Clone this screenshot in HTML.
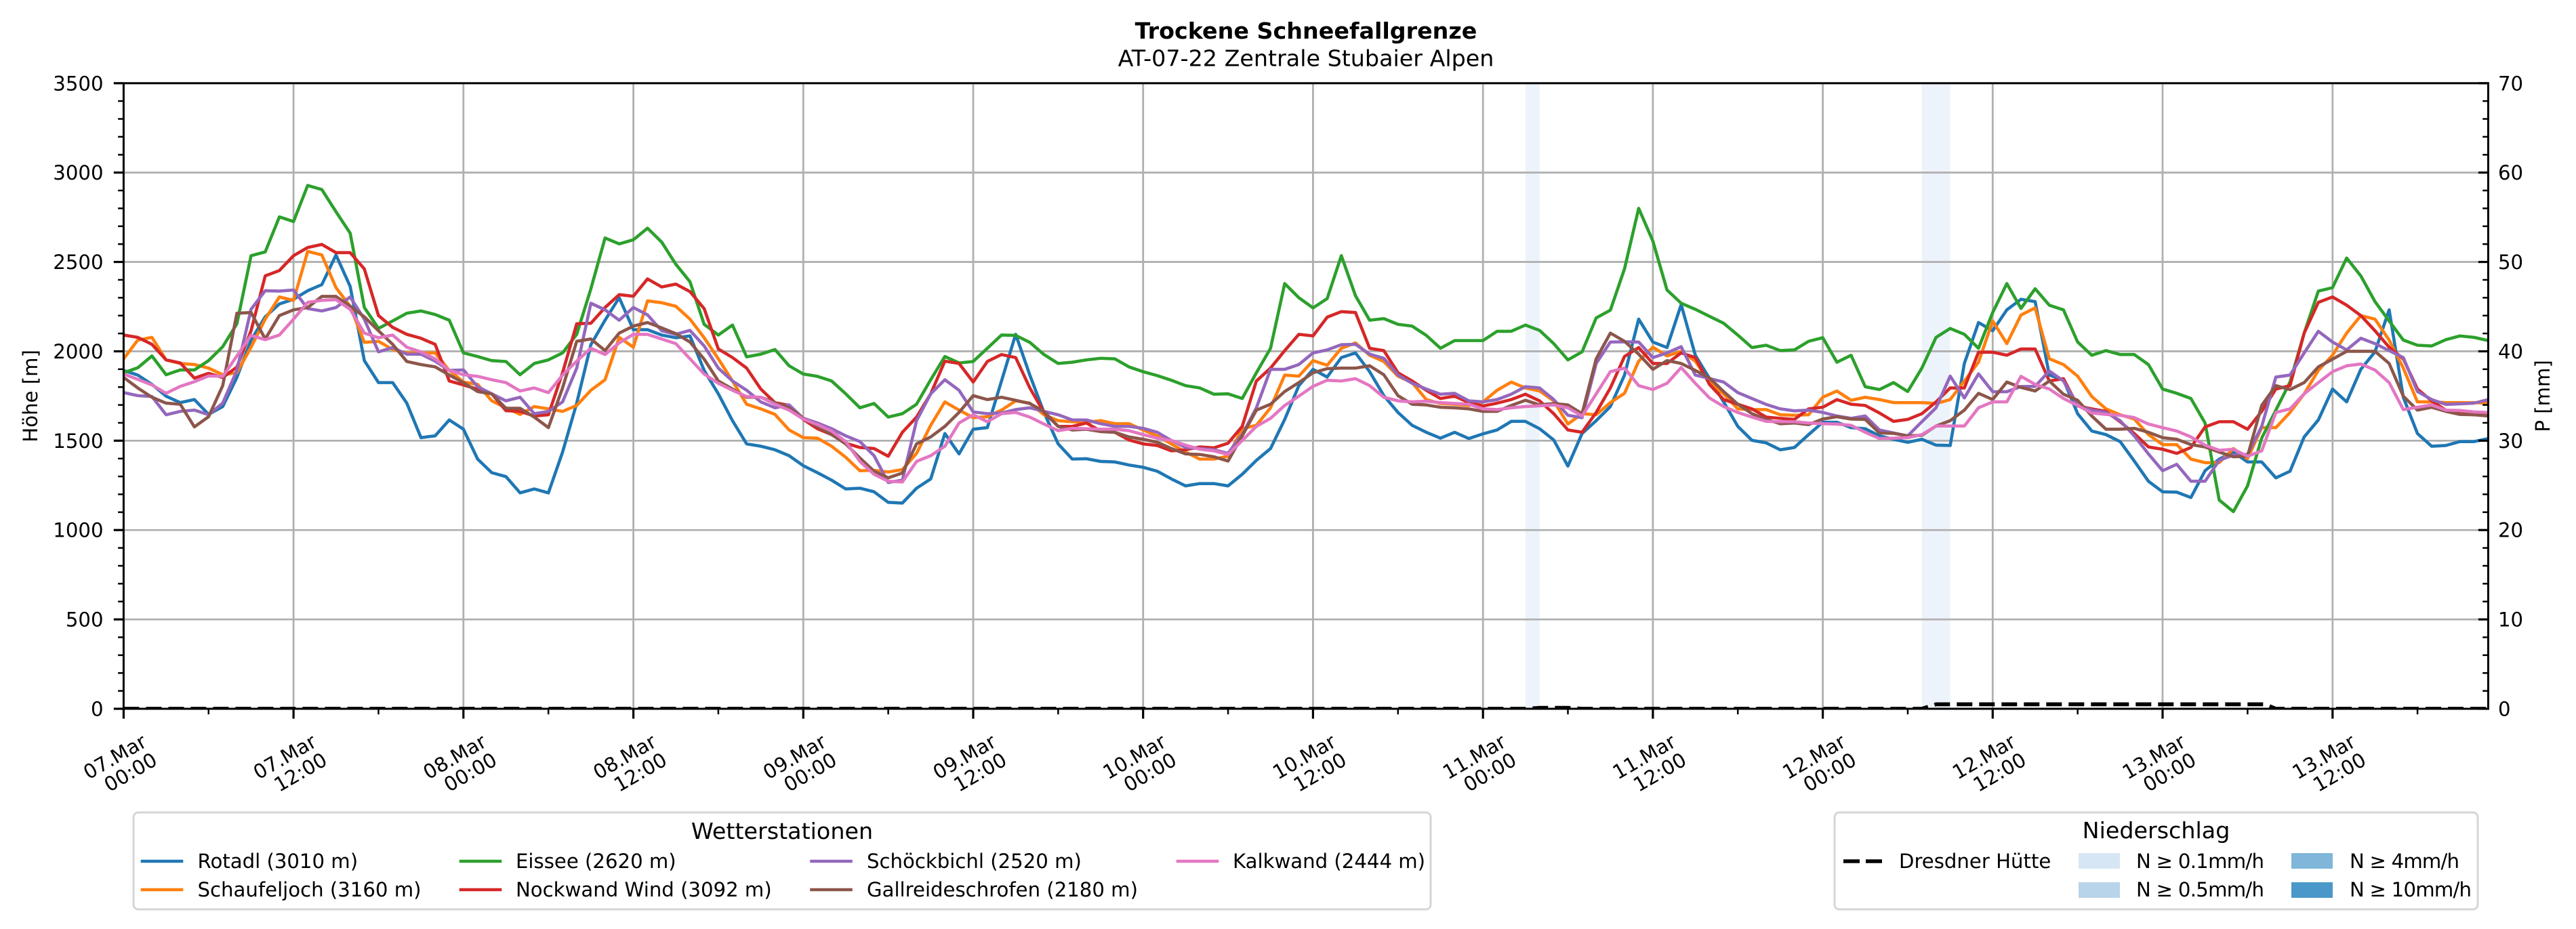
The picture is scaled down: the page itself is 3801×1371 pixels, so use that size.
<!DOCTYPE html>
<html><head><meta charset="utf-8"><style>
html,body{margin:0;padding:0;background:#fff;}
svg{display:block;}
text{font-family:"DejaVu Sans","Liberation Sans",sans-serif;fill:#000;}
</style></head><body>
<svg width="3801" height="1371" viewBox="0 0 3801 1371" xmlns="http://www.w3.org/2000/svg">
<rect x="0" y="0" width="3801" height="1371" fill="#fff"/>
<defs><clipPath id="pc"><rect x="182.4" y="122.8" width="3489.1" height="923.2"/></clipPath></defs>

<!-- titles -->
<text x="1927" y="57" font-size="33.33" font-weight="bold" text-anchor="middle">Trockene Schneefallgrenze</text>
<text x="1927" y="97.5" font-size="33.33" text-anchor="middle">AT-07-22 Zentrale Stubaier Alpen</text>

<!-- precipitation bands -->
<rect x="2250.8" y="122.8" width="20.9" height="923.2" fill="#edf3fa"/>
<rect x="2835.8" y="122.8" width="41.8" height="923.2" fill="#edf3fa"/>

<!-- grid -->
<g stroke="#b0b0b0" stroke-width="2.8">
<line x1="182.4" y1="914.11" x2="3671.5" y2="914.11"/>
<line x1="182.4" y1="782.23" x2="3671.5" y2="782.23"/>
<line x1="182.4" y1="650.34" x2="3671.5" y2="650.34"/>
<line x1="182.4" y1="518.46" x2="3671.5" y2="518.46"/>
<line x1="182.4" y1="386.57" x2="3671.5" y2="386.57"/>
<line x1="182.4" y1="254.69" x2="3671.5" y2="254.69"/>
<line x1="433.1" y1="122.8" x2="433.1" y2="1046"/>
<line x1="683.8" y1="122.8" x2="683.8" y2="1046"/>
<line x1="934.6" y1="122.8" x2="934.6" y2="1046"/>
<line x1="1185.3" y1="122.8" x2="1185.3" y2="1046"/>
<line x1="1436.0" y1="122.8" x2="1436.0" y2="1046"/>
<line x1="1686.7" y1="122.8" x2="1686.7" y2="1046"/>
<line x1="1937.4" y1="122.8" x2="1937.4" y2="1046"/>
<line x1="2188.2" y1="122.8" x2="2188.2" y2="1046"/>
<line x1="2438.9" y1="122.8" x2="2438.9" y2="1046"/>
<line x1="2689.6" y1="122.8" x2="2689.6" y2="1046"/>
<line x1="2940.3" y1="122.8" x2="2940.3" y2="1046"/>
<line x1="3191.0" y1="122.8" x2="3191.0" y2="1046"/>
<line x1="3441.8" y1="122.8" x2="3441.8" y2="1046"/>
</g>

<!-- series -->
<g clip-path="url(#pc)">
<g transform="matrix(20.893 0 0 -0.263771 182.4 1046)" fill="none" stroke-width="4.6" stroke-linejoin="round" stroke-linecap="square">
<polyline vector-effect="non-scaling-stroke" stroke="#1f77b4" points="0,1893 1,1867 2,1815 3,1749 4,1713 5,1730 6,1647 7,1691 8,1854 9,2063 10,2193 11,2265 12,2291 13,2339 14,2373 15,2539 16,2363 17,1948 18,1825 19,1825 20,1710 21,1517 22,1527 23,1616 24,1564 25,1397 26,1321 27,1299 28,1208 29,1230 30,1208 31,1436 32,1710 33,2037 34,2174 35,2300 36,2121 37,2121 38,2091 39,2076 40,2086 41,1893 42,1762 43,1612 44,1482 45,1469 46,1449 47,1416 48,1360 49,1321 50,1279 51,1230 52,1234 53,1214 54,1155 55,1151 56,1234 57,1286 58,1540 59,1426 60,1564 61,1573 62,1834 63,2095 64,1867 65,1658 66,1482 67,1397 68,1399 69,1384 70,1381 71,1364 72,1351 73,1329 74,1286 75,1247 76,1260 77,1260 78,1247 79,1312 80,1390 81,1456 82,1619 83,1808 84,1899 85,1856 86,1965 87,1991 88,1886 89,1752 90,1658 91,1586 92,1547 93,1514 94,1547 95,1512 96,1538 97,1560 98,1608 99,1608 100,1567 101,1504 102,1358 103,1540 104,1612 105,1691 106,1867 107,2180 108,2052 109,2021 110,2261 111,1978 112,1848 113,1717 114,1580 115,1502 116,1488 117,1449 118,1462 119,1534 120,1603 121,1603 122,1573 123,1567 124,1527 125,1508 126,1491 127,1508 128,1475 129,1473 130,1932 131,2161 132,2115 133,2232 134,2291 135,2278 136,1867 137,1841 138,1651 139,1554 140,1534 141,1495 142,1386 143,1273 144,1214 145,1212 146,1182 147,1332 148,1397 149,1436 150,1381 151,1381 152,1292 153,1329 154,1521 155,1616 156,1789 157,1717 158,1899 159,1997 160,2232 161,1743 162,1540 163,1469 164,1473 165,1495 166,1495 167,1512"/>
<polyline vector-effect="non-scaling-stroke" stroke="#ff7f0e" points="0,1958 1,2063 2,2078 3,1952 4,1932 5,1926 6,1906 7,1869 8,1880 9,2023 10,2180 11,2304 12,2285 13,2559 14,2539 15,2356 16,2252 17,2050 18,2056 19,2010 20,1991 21,1991 22,1991 23,1893 24,1828 25,1815 26,1723 27,1684 28,1647 29,1691 30,1678 31,1664 32,1697 33,1782 34,1841 35,2078 36,2023 37,2282 38,2272 39,2252 40,2180 41,2076 42,1958 43,1834 44,1704 45,1678 46,1647 47,1560 48,1517 49,1514 50,1469 51,1407 52,1332 53,1334 54,1325 55,1338 56,1429 57,1586 58,1717 59,1671 60,1629 61,1634 62,1671 63,1723 64,1710 65,1645 66,1612 67,1606 68,1603 69,1612 70,1595 71,1595 72,1560 73,1527 74,1482 75,1436 76,1397 77,1397 78,1413 79,1567 80,1586 81,1684 82,1867 83,1861 84,1948 85,1922 86,2017 87,2047 88,1978 89,1943 90,1861 91,1825 92,1730 93,1708 94,1704 95,1697 96,1717 97,1782 98,1828 99,1795 100,1778 101,1723 102,1593 103,1651 104,1645 105,1713 106,1765 107,1945 108,2023 109,1974 110,2000 111,1945 112,1825 113,1762 114,1678 115,1674 116,1674 117,1645 118,1642 119,1645 120,1743 121,1778 122,1726 123,1743 124,1730 125,1713 126,1713 127,1713 128,1708 129,1730 130,1834 131,1939 132,2170 133,2043 134,2203 135,2243 136,1958 137,1926 138,1861 139,1747 140,1678 141,1645 142,1621 143,1534 144,1478 145,1478 146,1397 147,1377 148,1377 149,1456 150,1399 151,1573 152,1573 153,1658 154,1762 155,1893 156,1978 157,2102 158,2200 159,2180 160,2063 161,1906 162,1717 163,1717 164,1713 165,1713 166,1713 167,1710"/>
<polyline vector-effect="non-scaling-stroke" stroke="#2ca02c" points="0,1880 1,1908 2,1974 3,1869 4,1896 5,1896 6,1948 7,2026 8,2154 9,2535 10,2556 11,2752 12,2726 13,2928 14,2905 15,2781 16,2661 17,2245 18,2128 19,2170 20,2213 21,2226 22,2206 23,2174 24,1991 25,1971 26,1948 27,1943 28,1869 29,1932 30,1952 31,1991 32,2095 33,2350 34,2634 35,2601 36,2624 37,2689 38,2611 39,2487 40,2389 41,2151 42,2091 43,2147 44,1969 45,1984 46,2010 47,1919 48,1873 49,1860 50,1834 51,1762 52,1684 53,1708 54,1632 55,1651 56,1704 57,1841 58,1971 59,1935 60,1943 61,2017 62,2091 63,2089 64,2050 65,1982 66,1932 67,1939 68,1952 69,1961 70,1958 71,1913 72,1886 73,1864 74,1838 75,1808 76,1795 77,1760 78,1762 79,1736 80,1880 81,2017 82,2379 83,2300 84,2243 85,2295 86,2535 87,2311 88,2174 89,2183 90,2151 91,2141 92,2089 93,2017 94,2060 95,2060 96,2060 97,2112 98,2112 99,2147 100,2117 101,2043 102,1952 103,1997 104,2187 105,2230 106,2462 107,2800 108,2617 109,2343 110,2269 111,2235 112,2196 113,2157 114,2091 115,2021 116,2034 117,2004 118,2008 119,2056 120,2076 121,1939 122,1978 123,1802 124,1786 125,1825 126,1775 127,1906 128,2078 129,2128 130,2095 131,2017 132,2217 133,2379 134,2240 135,2350 136,2258 137,2232 138,2052 139,1978 140,2004 141,1982 142,1982 143,1926 144,1789 145,1765 146,1736 147,1599 148,1168 149,1103 150,1247 151,1514 152,1671 153,1828 154,2102 155,2337 156,2356 157,2522 158,2422 159,2278 160,2170 161,2063 162,2034 163,2030 164,2065 165,2086 166,2078 167,2060"/>
<polyline vector-effect="non-scaling-stroke" stroke="#d62728" points="0,2091 1,2078 2,2039 3,1952 4,1935 5,1850 6,1877 7,1853 8,1912 9,2115 10,2422 11,2452 12,2535 13,2581 14,2598 15,2552 16,2552 17,2461 18,2200 19,2134 20,2095 21,2073 22,2039 23,1834 24,1812 25,1788 26,1762 27,1668 28,1664 29,1638 30,1645 31,1880 32,2154 33,2157 34,2245 35,2317 36,2308 37,2405 38,2360 39,2376 40,2334 41,2239 42,2013 43,1965 44,1906 45,1789 46,1713 47,1697 48,1619 49,1567 50,1534 51,1486 52,1462 53,1456 54,1413 55,1547 56,1632 57,1762 58,1945 59,1932 60,1828 61,1943 62,1982 63,1965 64,1795 65,1658 66,1580 67,1580 68,1599 69,1554 70,1547 71,1504 72,1482 73,1473 74,1443 75,1449 76,1465 77,1460 78,1486 79,1580 80,1834 81,1906 82,2004 83,2095 84,2086 85,2191 86,2222 87,2217 88,2017 89,2004 90,1880 91,1834 92,1782 93,1736 94,1749 95,1713 96,1694 97,1710 98,1730 99,1760 100,1723 101,1651 102,1560 103,1547 104,1658 105,1795 106,1971 107,2021 108,1932 109,1932 110,1991 111,1965 112,1815 113,1730 114,1704 115,1678 116,1632 117,1625 118,1619 119,1678 120,1687 121,1730 122,1704 123,1697 124,1655 125,1608 126,1619 127,1651 128,1717 129,1795 130,1795 131,1995 132,1995 133,1978 134,2013 135,2013 136,1834 137,1847 138,1694 139,1678 140,1664 141,1606 142,1540 143,1465 144,1452 145,1429 146,1462 147,1577 148,1606 149,1606 150,1564 151,1664 152,1789 153,1808 154,2102 155,2274 156,2304 157,2258 158,2200 159,2115 160,2023 161,1958 162,1789 163,1723 164,1671 165,1651 166,1645 167,1645"/>
<polyline vector-effect="non-scaling-stroke" stroke="#9467bd" points="0,1769 1,1752 2,1747 3,1645 4,1664 5,1671 6,1645 7,1710 8,1893 9,2235 10,2339 11,2337 12,2343 13,2239 14,2226 15,2245 16,2304 17,2180 18,1997 19,2021 20,1984 21,1984 22,1945 23,1893 24,1896 25,1802 26,1762 27,1723 28,1743 29,1651 30,1664 31,1717 32,1906 33,2269 34,2232 35,2174 36,2245 37,2204 38,2115 39,2095 40,2117 41,2030 42,1906 43,1834 44,1782 45,1717 46,1684 47,1700 48,1625 49,1599 50,1567 51,1527 52,1495 53,1416 54,1266 55,1279 56,1612 57,1762 58,1841 59,1782 60,1661 61,1651 62,1655 63,1674 64,1684 65,1664 66,1645 67,1616 68,1616 69,1595 70,1580 71,1580 72,1569 73,1547 74,1501 75,1462 76,1456 77,1449 78,1429 79,1534 80,1684 81,1899 82,1899 83,1926 84,1991 85,2008 86,2037 87,2039 88,1984 89,1961 90,1867 91,1821 92,1789 93,1760 94,1765 95,1723 96,1717 97,1730 98,1760 99,1802 100,1795 101,1730 102,1642 103,1629 104,1932 105,2052 106,2053 107,2052 108,1965 109,1991 110,2026 111,1867 112,1848 113,1828 114,1769 115,1736 116,1703 117,1678 118,1667 119,1671 120,1658 121,1638 122,1625 123,1638 124,1560 125,1543 126,1527 127,1606 128,1684 129,1861 130,1739 131,1874 132,1774 133,1774 134,1803 135,1804 136,1890 137,1834 138,1697 139,1671 140,1658 141,1612 142,1527 143,1426 144,1332 145,1368 146,1273 147,1273 148,1390 149,1420 150,1423 151,1580 152,1856 153,1867 154,1991 155,2112 156,2052 157,2008 158,2073 159,2043 160,2004 161,1965 162,1775 163,1730 164,1703 165,1706 166,1710 167,1730"/>
<polyline vector-effect="non-scaling-stroke" stroke="#8c564b" points="0,1854 1,1795 2,1743 3,1710 4,1704 5,1577 6,1634 7,1808 8,2213 9,2217 10,2069 11,2200 12,2232 13,2245 14,2307 15,2307 16,2252 17,2193 18,2115 19,2039 20,1943 21,1926 22,1913 23,1867 24,1825 25,1775 26,1762 27,1681 28,1681 29,1632 30,1573 31,1795 32,2056 33,2069 34,2004 35,2102 36,2141 37,2161 38,2131 39,2099 40,2052 41,1956 42,1834 43,1789 44,1743 45,1743 46,1713 47,1684 48,1625 49,1580 50,1534 51,1482 52,1403 53,1329 54,1292 55,1319 56,1482 57,1521 58,1580 59,1658 60,1752 61,1730 62,1743 63,1726 64,1708 65,1664 66,1580 67,1560 68,1564 69,1551 70,1547 71,1521 72,1508 73,1491 74,1456 75,1426 76,1423 77,1410 78,1386 79,1527 80,1671 81,1704 82,1775 83,1825 84,1880 85,1903 86,1906 87,1906 88,1919 89,1869 90,1752 91,1704 92,1700 93,1687 94,1684 95,1678 96,1664 97,1664 98,1697 99,1726 100,1700 101,1708 102,1700 103,1651 104,1958 105,2102 106,2056 107,1984 108,1899 109,1948 110,1932 111,1893 112,1851 113,1775 114,1704 115,1651 116,1619 117,1595 118,1599 119,1590 120,1621 121,1634 122,1621 123,1619 124,1543 125,1541 126,1527 127,1530 128,1582 129,1612 130,1671 131,1765 132,1730 133,1828 134,1798 135,1778 136,1834 137,1760 138,1726 139,1638 140,1564 141,1564 142,1569 143,1547 144,1517 145,1508 146,1478 147,1465 148,1436 149,1410 150,1413 151,1697 152,1808 153,1786 154,1825 155,1913 156,1956 157,2000 158,2000 159,2000 160,1932 161,1749 162,1671 163,1687 164,1664 165,1647 166,1645 167,1638"/>
<polyline vector-effect="non-scaling-stroke" stroke="#e377c2" points="0,1873 1,1843 2,1812 3,1765 4,1804 5,1830 6,1862 7,1860 8,1974 9,2089 10,2065 11,2091 12,2180 13,2274 14,2285 15,2289 16,2235 17,2102 18,2076 19,2091 20,2023 21,1997 22,1958 23,1893 24,1869 25,1860 26,1841 27,1825 28,1778 29,1795 30,1769 31,1867 32,1945 33,2017 34,1982 35,2047 36,2095 37,2095 38,2069 39,2043 40,1958 41,1873 42,1821 43,1782 44,1747 45,1743 46,1704 47,1671 48,1621 49,1590 50,1554 51,1495 52,1384 53,1312 54,1273 55,1269 56,1384 57,1416 58,1469 59,1599 60,1645 61,1606 62,1651 63,1658 64,1632 65,1593 66,1556 67,1569 68,1567 69,1564 70,1564 71,1556 72,1534 73,1514 74,1501 75,1475 76,1452 77,1443 78,1423 79,1501 80,1580 81,1625 82,1697 83,1749 84,1804 85,1838 86,1834 87,1847 88,1808 89,1743 90,1723 91,1717 92,1721 93,1713 94,1708 95,1704 96,1678 97,1674 98,1684 99,1691 100,1695 101,1700 102,1684 103,1638 104,1762 105,1886 106,1906 107,1808 108,1786 109,1821 110,1909 111,1821 112,1739 113,1691 114,1658 115,1632 116,1608 117,1606 118,1606 119,1599 120,1595 121,1593 122,1586 123,1547 124,1512 125,1514 126,1517 127,1534 128,1582 129,1582 130,1582 131,1684 132,1717 133,1717 134,1860 135,1815 136,1789 137,1736 138,1697 139,1655 140,1647 141,1642 142,1629 143,1593 144,1573 145,1554 146,1521 147,1475 148,1446 149,1452 150,1413 151,1443 152,1658 153,1678 154,1762 155,1825 156,1886 157,1919 158,1929 159,1895 160,1825 161,1674 162,1687 163,1700 164,1671 165,1669 166,1661 167,1658"/>
</g>
<polyline fill="none" stroke="#000" stroke-width="5.8" stroke-dasharray="23 10" points="182.4,1046 2250.8,1046 2271.7,1044.7 2313.5,1044.7 2334.4,1046 2835.8,1046 2856.7,1039.4 3342,1039.4 3358.1,1046 3671.5,1046"/>
</g>

<!-- spines -->
<rect x="182.4" y="122.8" width="3489.1" height="923.2" fill="none" stroke="#000" stroke-width="3"/>

<!-- left ticks -->
<g stroke="#000" stroke-width="3.2">
<line x1="167.8" y1="1046" x2="182.4" y2="1046"/>
<line x1="167.8" y1="914.11" x2="182.4" y2="914.11"/>
<line x1="167.8" y1="782.23" x2="182.4" y2="782.23"/>
<line x1="167.8" y1="650.34" x2="182.4" y2="650.34"/>
<line x1="167.8" y1="518.46" x2="182.4" y2="518.46"/>
<line x1="167.8" y1="386.57" x2="182.4" y2="386.57"/>
<line x1="167.8" y1="254.69" x2="182.4" y2="254.69"/>
<line x1="167.8" y1="122.8" x2="182.4" y2="122.8"/>
</g>
<line x1="178.25" y1="1047.25" x2="178.25" y2="121" stroke="#000" stroke-width="8.3" stroke-dasharray="2.5 23.877"/>
<!-- right ticks (inward) -->
<g stroke="#000" stroke-width="3.2">
<line x1="3656.9" y1="1046" x2="3671.5" y2="1046"/>
<line x1="3656.9" y1="914.11" x2="3671.5" y2="914.11"/>
<line x1="3656.9" y1="782.23" x2="3671.5" y2="782.23"/>
<line x1="3656.9" y1="650.34" x2="3671.5" y2="650.34"/>
<line x1="3656.9" y1="518.46" x2="3671.5" y2="518.46"/>
<line x1="3656.9" y1="386.57" x2="3671.5" y2="386.57"/>
<line x1="3656.9" y1="254.69" x2="3671.5" y2="254.69"/>
<line x1="3656.9" y1="122.8" x2="3671.5" y2="122.8"/>
</g>
<line x1="3667.35" y1="1047.25" x2="3667.35" y2="121" stroke="#000" stroke-width="8.3" stroke-dasharray="2.5 23.877"/>
<!-- bottom ticks -->
<g stroke="#000" stroke-width="3.2">
<line x1="182.4" y1="1046" x2="182.4" y2="1060.6"/>
<line x1="433.1" y1="1046" x2="433.1" y2="1060.6"/>
<line x1="683.8" y1="1046" x2="683.8" y2="1060.6"/>
<line x1="934.6" y1="1046" x2="934.6" y2="1060.6"/>
<line x1="1185.3" y1="1046" x2="1185.3" y2="1060.6"/>
<line x1="1436.0" y1="1046" x2="1436.0" y2="1060.6"/>
<line x1="1686.7" y1="1046" x2="1686.7" y2="1060.6"/>
<line x1="1937.4" y1="1046" x2="1937.4" y2="1060.6"/>
<line x1="2188.2" y1="1046" x2="2188.2" y2="1060.6"/>
<line x1="2438.9" y1="1046" x2="2438.9" y2="1060.6"/>
<line x1="2689.6" y1="1046" x2="2689.6" y2="1060.6"/>
<line x1="2940.3" y1="1046" x2="2940.3" y2="1060.6"/>
<line x1="3191.0" y1="1046" x2="3191.0" y2="1060.6"/>
<line x1="3441.8" y1="1046" x2="3441.8" y2="1060.6"/>
</g>
<line x1="306.5" y1="1050.15" x2="3600" y2="1050.15" stroke="#000" stroke-width="8.3" stroke-dasharray="2.5 248.22"/>

<!-- left tick labels -->
<g font-size="29.17" text-anchor="end">
<text x="152.5" y="1056.5">0</text>
<text x="152.5" y="924.6">500</text>
<text x="152.5" y="792.7">1000</text>
<text x="152.5" y="660.8">1500</text>
<text x="152.5" y="529">2000</text>
<text x="152.5" y="397.1">2500</text>
<text x="152.5" y="265.2">3000</text>
<text x="152.5" y="133.3">3500</text>
</g>
<!-- right tick labels -->
<g font-size="29.17" text-anchor="start">
<text x="3686" y="1056.5">0</text>
<text x="3686" y="924.6">10</text>
<text x="3686" y="792.7">20</text>
<text x="3686" y="660.8">30</text>
<text x="3686" y="529">40</text>
<text x="3686" y="397.1">50</text>
<text x="3686" y="265.2">60</text>
<text x="3686" y="133.3">70</text>
</g>
<!-- axis labels -->
<text transform="translate(55,584.4) rotate(-90)" font-size="29.17" text-anchor="middle">Höhe [m]</text>
<text transform="translate(3762,584.4) rotate(-90)" font-size="29.17" text-anchor="middle">P [mm]</text>

<!-- x tick labels -->
<g font-size="29.17" text-anchor="end">
<g transform="translate(182.4,1127.5) rotate(-30)"><text x="44.8" y="-5.5">07.Mar</text><text x="44.8" y="25.7">00:00</text></g>
<g transform="translate(433.1,1127.5) rotate(-30)"><text x="44.8" y="-5.5">07.Mar</text><text x="44.8" y="25.7">12:00</text></g>
<g transform="translate(683.8,1127.5) rotate(-30)"><text x="44.8" y="-5.5">08.Mar</text><text x="44.8" y="25.7">00:00</text></g>
<g transform="translate(934.6,1127.5) rotate(-30)"><text x="44.8" y="-5.5">08.Mar</text><text x="44.8" y="25.7">12:00</text></g>
<g transform="translate(1185.3,1127.5) rotate(-30)"><text x="44.8" y="-5.5">09.Mar</text><text x="44.8" y="25.7">00:00</text></g>
<g transform="translate(1436.0,1127.5) rotate(-30)"><text x="44.8" y="-5.5">09.Mar</text><text x="44.8" y="25.7">12:00</text></g>
<g transform="translate(1686.7,1127.5) rotate(-30)"><text x="44.8" y="-5.5">10.Mar</text><text x="44.8" y="25.7">00:00</text></g>
<g transform="translate(1937.4,1127.5) rotate(-30)"><text x="44.8" y="-5.5">10.Mar</text><text x="44.8" y="25.7">12:00</text></g>
<g transform="translate(2188.2,1127.5) rotate(-30)"><text x="44.8" y="-5.5">11.Mar</text><text x="44.8" y="25.7">00:00</text></g>
<g transform="translate(2438.9,1127.5) rotate(-30)"><text x="44.8" y="-5.5">11.Mar</text><text x="44.8" y="25.7">12:00</text></g>
<g transform="translate(2689.6,1127.5) rotate(-30)"><text x="44.8" y="-5.5">12.Mar</text><text x="44.8" y="25.7">00:00</text></g>
<g transform="translate(2940.3,1127.5) rotate(-30)"><text x="44.8" y="-5.5">12.Mar</text><text x="44.8" y="25.7">12:00</text></g>
<g transform="translate(3191.0,1127.5) rotate(-30)"><text x="44.8" y="-5.5">13.Mar</text><text x="44.8" y="25.7">00:00</text></g>
<g transform="translate(3441.8,1127.5) rotate(-30)"><text x="44.8" y="-5.5">13.Mar</text><text x="44.8" y="25.7">12:00</text></g>
</g>

<!-- legend 1 -->
<rect x="197" y="1199" width="1914" height="143" rx="7" fill="#fff" stroke="#d6d6d6" stroke-width="3"/>
<text x="1154" y="1238" font-size="33.33" text-anchor="middle">Wetterstationen</text>
<g stroke-width="4.6" stroke-linecap="square">
<line x1="210" y1="1271" x2="268" y2="1271" stroke="#1f77b4"/>
<line x1="210" y1="1313" x2="268" y2="1313" stroke="#ff7f0e"/>
<line x1="680" y1="1271" x2="738" y2="1271" stroke="#2ca02c"/>
<line x1="680" y1="1313" x2="738" y2="1313" stroke="#d62728"/>
<line x1="1197.5" y1="1271" x2="1255.5" y2="1271" stroke="#9467bd"/>
<line x1="1197.5" y1="1313" x2="1255.5" y2="1313" stroke="#8c564b"/>
<line x1="1738" y1="1271" x2="1796" y2="1271" stroke="#e377c2"/>
</g>
<g font-size="29.17">
<text x="291.5" y="1281">Rotadl (3010 m)</text>
<text x="291.5" y="1323">Schaufeljoch (3160 m)</text>
<text x="761" y="1281">Eissee (2620 m)</text>
<text x="761" y="1323">Nockwand Wind (3092 m)</text>
<text x="1279" y="1281">Schöckbichl (2520 m)</text>
<text x="1279" y="1323">Gallreideschrofen (2180 m)</text>
<text x="1819" y="1281">Kalkwand (2444 m)</text>
</g>

<!-- legend 2 -->
<rect x="2707" y="1199" width="949" height="143" rx="7" fill="#fff" stroke="#d6d6d6" stroke-width="3"/>
<text x="3181.5" y="1237" font-size="33.33" text-anchor="middle">Niederschlag</text>
<line x1="2720" y1="1271" x2="2778" y2="1271" stroke="#000" stroke-width="5.5" stroke-dasharray="24 9"/>
<rect x="3067" y="1259" width="61" height="23" fill="#d6e6f4"/>
<rect x="3067" y="1302" width="61" height="23" fill="#b7d4ea"/>
<rect x="3381" y="1259" width="61" height="23" fill="#7fb6da"/>
<rect x="3381" y="1302" width="61" height="23" fill="#4a98c9"/>
<g font-size="29.17">
<text x="2802" y="1281">Dresdner Hütte</text>
<text x="3152" y="1281" textLength="189" lengthAdjust="spacing">N ≥ 0.1mm/h</text>
<text x="3152" y="1323" textLength="189" lengthAdjust="spacing">N ≥ 0.5mm/h</text>
<text x="3467" y="1281" textLength="162" lengthAdjust="spacing">N ≥ 4mm/h</text>
<text x="3467" y="1323" textLength="180" lengthAdjust="spacing">N ≥ 10mm/h</text>
</g>
</svg>
</body></html>
